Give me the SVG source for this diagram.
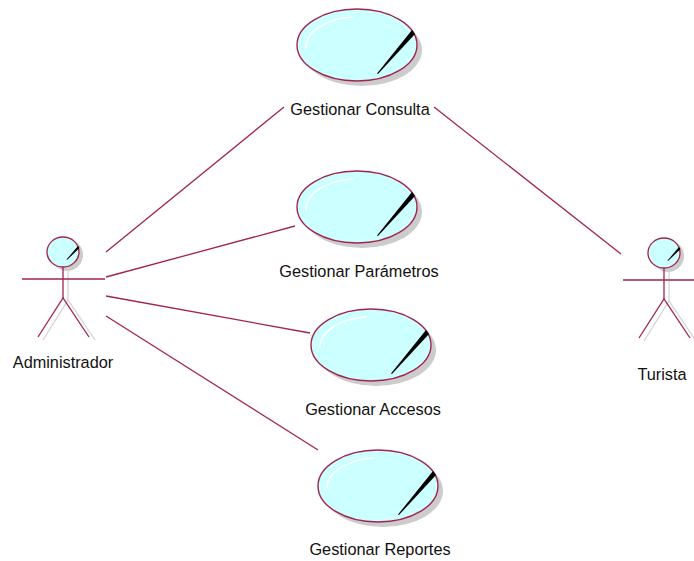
<svg xmlns="http://www.w3.org/2000/svg" xmlns:xlink="http://www.w3.org/1999/xlink" width="694" height="561" viewBox="0 0 694 561">
<style>
.lbl{font-family:"Liberation Sans",Arial,sans-serif;font-size:16.3px;fill:#111;text-anchor:middle}
.ln{stroke:#a3234f;stroke-width:1.3;fill:none}
.sh{fill:#cccccc;stroke:none}
.shl{stroke:#d4d4d4;stroke-width:1.3;fill:none}
</style>
<defs>
<g id="uc">
<ellipse cx="5" cy="5" rx="60" ry="36" class="sh"/>
<ellipse cx="0" cy="0" rx="60" ry="36" fill="#ccffff" stroke="#a3234f" stroke-width="1.4"/>
<path d="M-51,3 A52,30 0 0 1 -4,-28" stroke="#ffffff" stroke-width="1.5" fill="none"/>
<polygon points="55,-15 58,-11 21,29 20,28.5" fill="#000"/>
</g>
<g id="actor">
<ellipse cx="4" cy="3" rx="16" ry="16" class="sh"/>
<line x1="5" y1="16" x2="5" y2="48" class="shl"/>
<polyline points="-20,88 5,48 32,88" class="shl"/>
<ellipse cx="0" cy="0" rx="16" ry="15" fill="#ccffff" stroke="#a3234f" stroke-width="1.3"/>
<polygon points="15,-6 16.5,-4 4,8 3.5,7.5" fill="#000"/>
<line x1="0" y1="15" x2="0" y2="46" class="ln"/>
<line x1="-41" y1="27" x2="42" y2="27" class="ln"/>
<polyline points="-25,85 0,46 26,85" class="ln"/>
</g>
</defs>
<g id="connectors">
<line x1="106" y1="252" x2="284" y2="107" class="ln"/>
<line x1="106" y1="277" x2="295" y2="226" class="ln"/>
<line x1="106" y1="296" x2="310" y2="333" class="ln"/>
<line x1="106" y1="316" x2="318" y2="450" class="ln"/>
<line x1="434" y1="107" x2="621" y2="254" class="ln"/>
</g>
<g id="uc-consulta">
<use xlink:href="#uc" transform="translate(357,45)"/>
<text x="360" y="115" class="lbl">Gestionar Consulta</text>
</g>
<g id="uc-parametros">
<use xlink:href="#uc" transform="translate(357,207)"/>
<text x="359" y="277" class="lbl">Gestionar Parámetros</text>
</g>
<g id="uc-accesos">
<use xlink:href="#uc" transform="translate(371,345)"/>
<text x="373" y="415" class="lbl">Gestionar Accesos</text>
</g>
<g id="uc-reportes">
<use xlink:href="#uc" transform="translate(378,486)"/>
<text x="380" y="555" class="lbl">Gestionar Reportes</text>
</g>
<g id="actor-administrador">
<use xlink:href="#actor" transform="translate(63,252)"/>
<text x="63" y="368" class="lbl">Administrador</text>
</g>
<g id="actor-turista">
<use xlink:href="#actor" transform="translate(664,253)"/>
<text x="662" y="380" class="lbl">Turista</text>
</g>
</svg>
